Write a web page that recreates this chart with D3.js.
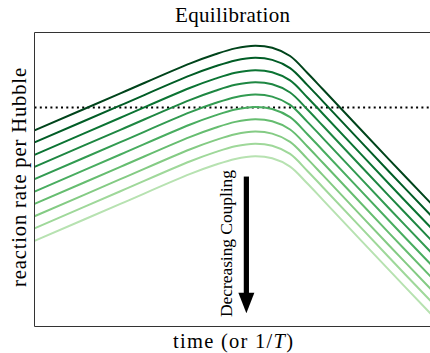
<!DOCTYPE html>
<html>
<head>
<meta charset="utf-8">
<script src="https://cdn.jsdelivr.net/npm/d3@7"></script>
<style>
  body { margin: 0; background: #fff; }
  text { font-family: "Liberation Serif", "DejaVu Serif", serif; fill: #000; }
</style>
</head>
<body>
<svg id="chart" width="430" height="353"></svg>
<script>
"use strict";

// base curve (strongest coupling), log-time vs log(rate/H)
var baseX = [0, 21.6, 39.2, 45.5, 50.5, 55.5, 59.8, 64.3, 68.6, 72.6, 89.4, 100];
var baseY = [66.7, 79.3, 89.5, 92.6, 94.6, 95.5, 94.8, 92.0, 86.3, 80.6, 56.5, 41.5];

// downward shift of each curve as coupling decreases
var couplingShift = [0, 4.1, 8.3, 12.4, 16.6, 20.8, 25.0, 29.2, 33.3, 37.6];

// equilibrium threshold (rate = Hubble)
var hubbleLevel = 74.5;

var title = "Equilibration";
var yLabel = "reaction rate per Hubble";
var arrowLabel = "Decreasing Coupling";

var svg = d3.select("#chart");
var margin = {left: 34.5, top: 32.5, right: -2, bottom: 26.5};
var W = 430, H = 353;

var x = d3.scaleLinear().domain([0, 100]).range([margin.left, W - margin.right]);
var y = d3.scaleLinear().domain([0, 100]).range([H - margin.bottom, margin.top]);

var color = d3.scaleLinear().domain([0, couplingShift.length - 1]).range([1.0, 0.3]);

svg.append("clipPath").attr("id", "plotclip")
  .append("rect")
  .attr("x", margin.left).attr("y", margin.top)
  .attr("width", W - margin.right - margin.left)
  .attr("height", H - margin.bottom - margin.top);

var plot = svg.append("g").attr("clip-path", "url(#plotclip)");

var line = d3.line()
  .x(d => x(d[0]))
  .y(d => y(d[1]))
  .curve(d3.curveCatmullRom.alpha(0.5));

// hubble line
plot.append("line")
  .attr("x1", x(0)).attr("x2", x(100))
  .attr("y1", y(hubbleLevel)).attr("y2", y(hubbleLevel))
  .attr("stroke", "#000")
  .attr("stroke-width", 2)
  .attr("stroke-dasharray", "2,3.3");

plot.selectAll("path.rate")
  .data(couplingShift)
  .enter()
  .append("path")
  .attr("class", "rate")
  .attr("d", s => line(baseX.map((v, i) => [v, baseY[i] - s])))
  .attr("fill", "none")
  .attr("stroke", (s, i) => d3.interpolateGreens(color(i)))
  .attr("stroke-width", 2);

// arrow
var ax = x(53.3);
var aTop = y(51), aHead = y(11.5), aTip = y(4.5);
plot.append("rect")
  .attr("x", ax - 2.6).attr("y", aTop)
  .attr("width", 5.2).attr("height", aHead - aTop + 1);
plot.append("path")
  .attr("d", "M" + (ax - 8) + "," + aHead + "L" + (ax + 8) + "," + aHead + "L" + ax + "," + aTip + "Z")
  .attr("fill", "#000");

svg.append("text")
  .attr("transform", "translate(232,317) rotate(-90)")
  .attr("textLength", 147)
  .attr("lengthAdjust", "spacing")
  .style("font-size", "17.5px")
  .text(arrowLabel);

// spines (no ticks)
var axes = svg.append("g").attr("fill", "none").attr("stroke", "#333").attr("stroke-width", 1);
axes.append("line").attr("x1", margin.left).attr("x2", margin.left)
  .attr("y1", margin.top).attr("y2", H - margin.bottom);
axes.append("line").attr("x1", margin.left).attr("x2", W)
  .attr("y1", margin.top).attr("y2", margin.top);
axes.append("line").attr("x1", margin.left).attr("x2", W)
  .attr("y1", H - margin.bottom).attr("y2", H - margin.bottom);

svg.append("text")
  .attr("x", 175).attr("y", 22)
  .attr("textLength", 115)
  .attr("lengthAdjust", "spacing")
  .style("font-size", "21px")
  .text(title);

var xl = svg.append("text")
  .attr("x", 173).attr("y", 348)
  .attr("textLength", 120)
  .attr("lengthAdjust", "spacing")
  .style("font-size", "20.5px");
xl.append("tspan").text("time (or 1/");
xl.append("tspan").style("font-style", "italic").text("T");
xl.append("tspan").text(")");

svg.append("text")
  .attr("transform", "translate(26,287) rotate(-90)")
  .attr("textLength", 219)
  .attr("lengthAdjust", "spacing")
  .style("font-size", "20.5px")
  .text(yLabel);
</script>
</body>
</html>
